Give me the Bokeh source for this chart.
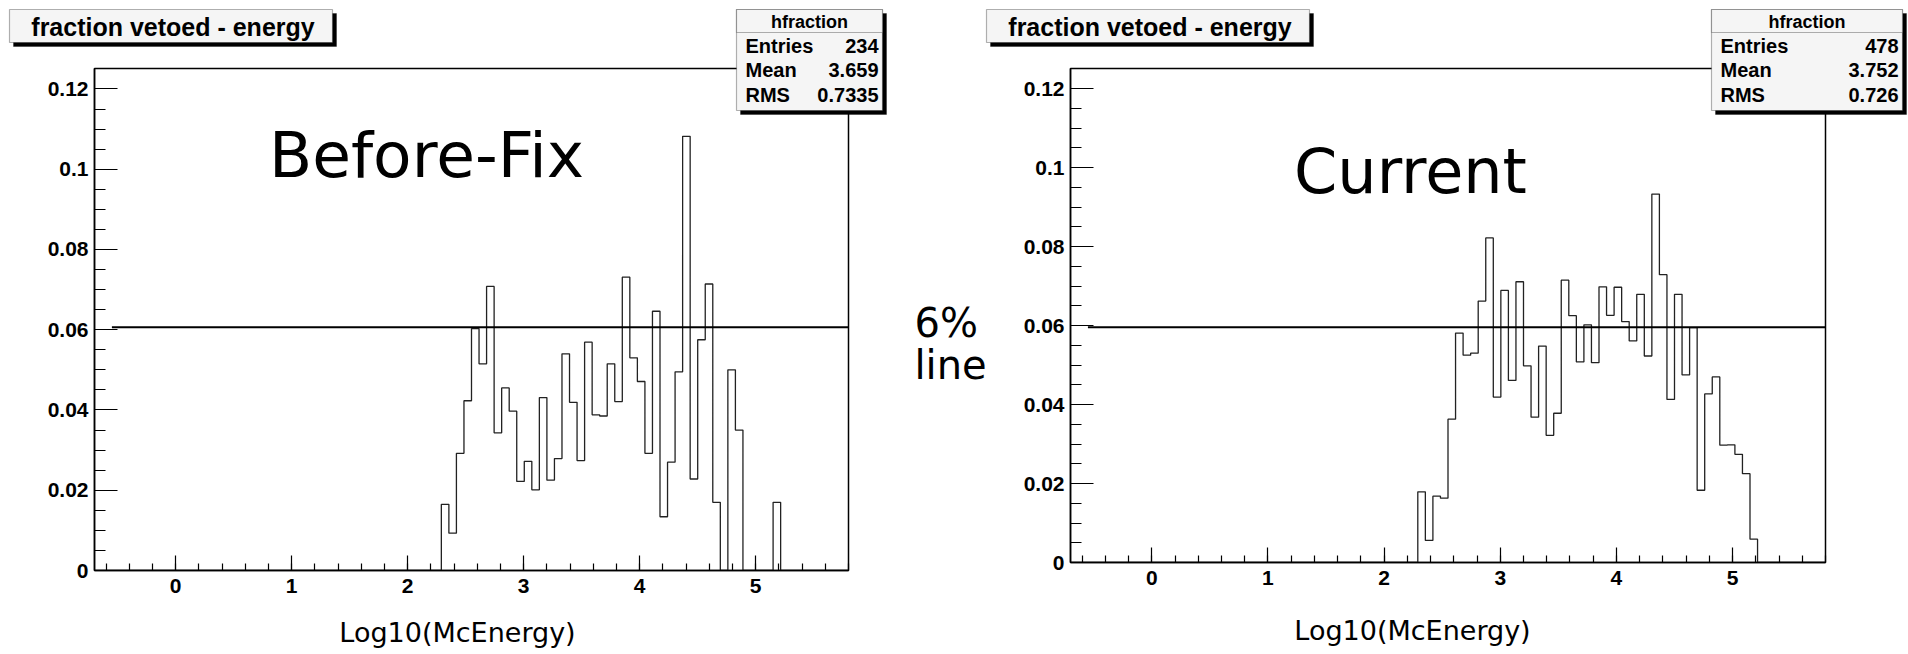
from bokeh.plotting import figure
from bokeh.models import Range1d, FixedTicker, PrintfTickFormatter, Label, BoxAnnotation
from bokeh.embed import file_html
from bokeh.resources import INLINE

# ---------------- data ----------------
X_MIN, X_MAX, N_BINS = -0.7, 5.8, 100
Y_MAX = 0.1251
FIRST_BIN = 46  # index of first non-empty bin

before_values = [0.0165, 0.0093, 0.0292, 0.0423, 0.0603, 0.0515, 0.0708, 0.0343,
                 0.0455, 0.0397, 0.0222, 0.0272, 0.0201, 0.0431, 0.0225, 0.0279,
                 0.0540, 0.0419, 0.0274, 0.0569, 0.0388, 0.0385, 0.0515, 0.0421,
                 0.0731, 0.0530, 0.0471, 0.0292, 0.0646, 0.0134, 0.0270, 0.0495,
                 0.1082, 0.0228, 0.0575, 0.0714, 0.0170, 0.0, 0.0500, 0.0350,
                 0.0, 0.0, 0.0, 0.0, 0.0170]

current_values = [0.0179, 0.0056, 0.0168, 0.0163, 0.0363, 0.0581, 0.0525, 0.0530,
                  0.0662, 0.0822, 0.0419, 0.0689, 0.0461, 0.0711, 0.0498, 0.0368,
                  0.0548, 0.0322, 0.0378, 0.0715, 0.0625, 0.0508, 0.0602, 0.0506,
                  0.0698, 0.0626, 0.0697, 0.0610, 0.0561, 0.0679, 0.0523, 0.0933,
                  0.0729, 0.0413, 0.0679, 0.0475, 0.0595, 0.0183, 0.0427, 0.0470,
                  0.0297, 0.0298, 0.0274, 0.0225, 0.0059]

before_level = 0.0606
current_level = 0.0596
level_x = [-0.55, 5.8]

before_stats = [("Entries", "234"), ("Mean", "3.659"), ("RMS", "0.7335")]
current_stats = [("Entries", "478"), ("Mean", "3.752"), ("RMS", "0.726")]

x_major = [0, 1, 2, 3, 4, 5]
x_minor = [round(-0.6 + 0.2 * i, 1) for i in range(33)]
y_major = [0, 0.02, 0.04, 0.06, 0.08, 0.1, 0.12]
y_minor = [round(0.005 * i, 3) for i in range(25)]

title_text = "fraction vetoed - energy"
stats_name = "hfraction"
x_title = "Log10(McEnergy)"
before_note = "Before-Fix"
current_note = "Current"
line_note = ["6%", "line"]

TXT = "Liberation Sans"
HAND = "DejaVu Sans"
W, H = 1908, 654


def hide_title(p):
    if p.title is not None:
        p.title.visible = False


def make_panel(values, level, width, mb_left, mb_right, mb_bottom, page_left):
    edges = [X_MIN + (X_MAX - X_MIN) * k / N_BINS for k in range(N_BINS + 1)]
    full = [0.0] * N_BINS
    for i, v in enumerate(values):
        full[FIRST_BIN + i] = v

    p = figure(width=width, height=H, x_range=Range1d(X_MIN, X_MAX), y_range=Range1d(0, Y_MAX),
               output_backend="svg", toolbar_location=None,
               min_border_left=mb_left, min_border_right=mb_right,
               min_border_top=68, min_border_bottom=mb_bottom)
    hide_title(p)
    p.styles = {"position": "absolute", "left": f"{page_left}px", "top": "0px"}
    p.grid.visible = False
    p.outline_line_color = "black"
    p.outline_line_width = 1.5
    p.background_fill_color = "white"
    p.border_fill_color = "white"

    p.step(edges, full + [0.0], mode="after", line_color="#222222", line_width=1.3)
    p.line(level_x, [level, level], line_color="black", line_width=2)

    p.xaxis.ticker = FixedTicker(ticks=x_major, minor_ticks=x_minor)
    p.yaxis.ticker = FixedTicker(ticks=y_major, minor_ticks=y_minor)
    for ax in (p.xaxis[0], p.yaxis[0]):
        ax.major_tick_out = 0
        ax.minor_tick_out = 0
        ax.axis_line_width = 1.5
        ax.axis_line_color = "black"
        ax.major_tick_line_width = 1.2
        ax.minor_tick_line_width = 1.2
        ax.major_tick_line_color = "black"
        ax.minor_tick_line_color = "black"
        ax.major_label_text_font = TXT
        ax.major_label_text_font_style = "bold"
        ax.major_label_text_font_size = "21px"
        ax.major_label_text_color = "black"
        ax.formatter = PrintfTickFormatter(format="%g")
    p.xaxis.major_tick_in = 15
    p.xaxis.minor_tick_in = 7
    p.yaxis.major_tick_in = 23
    p.yaxis.minor_tick_in = 11
    p.xaxis.major_label_standoff = 8
    p.yaxis.major_label_standoff = 6
    return p


# histogram panels: left frame at page x 94..848, y 68..570 ; right frame 1070..1825, y 68..562
left = make_panel(before_values, before_level, 990, 94, 142, 84, 0)
right = make_panel(current_values, current_level, 918, 80, 83, 92, 990)

# transparent overlay (pixel coordinates) for the pave boxes and hand-written notes
ov = figure(width=W, height=H, x_range=Range1d(0, W), y_range=Range1d(H, 0),
            x_axis_type=None, y_axis_type=None, output_backend="svg", toolbar_location=None,
            min_border=0, min_border_left=0, min_border_right=0, min_border_top=0, min_border_bottom=0)
hide_title(ov)
ov.styles = {"position": "absolute", "left": "0px", "top": "0px", "z-index": "5"}
ov.grid.visible = False
ov.outline_line_color = None
ov.background_fill_color = None
ov.border_fill_color = None


def label(x, y, text, size, font=TXT, style="bold", align="left"):
    ov.add_layout(Label(x=x, y=y, text=text, text_font=font, text_font_style=style,
                        text_font_size=f"{size}px", text_align=align, text_baseline="middle",
                        text_color="black"))


def box(l, r, t, b, fill="#f5f5f5", shadow=4):
    if shadow:
        ov.add_layout(BoxAnnotation(left=l + shadow, right=r + shadow, top=t + shadow, bottom=b + shadow,
                                    fill_color="black", fill_alpha=1, line_color="black", line_width=1))
    ov.add_layout(BoxAnnotation(left=l, right=r, top=t, bottom=b, fill_color=fill, fill_alpha=1,
                                line_color="black", line_width=1.2))


def pave(title_box, stats_box, stats):
    tl, tr, tt, tb = title_box
    box(tl, tr, tt, tb)
    label((tl + tr) / 2 + 2, (tt + tb) / 2 + 1, title_text, 25, align="center")
    sl, sr, st, sb = stats_box
    box(sl, sr, st, sb)
    box(sl, sr, st, st + 23, shadow=0)
    label((sl + sr) / 2, st + 12, stats_name, 18, align="center")
    for i, (name, val) in enumerate(stats):
        yy = st + 36 + 24.5 * i
        label(sl + 9, yy, name, 20, align="left")
        label(sr - 4, yy, val, 20, align="right")


pave((9, 332, 9, 42), (736, 882, 9, 110), before_stats)
pave((986, 1309, 9, 42), (1711, 1902, 9, 110), current_stats)

label(426, 155, before_note, 63, font=HAND, style="normal", align="center")
label(1410, 171, current_note, 62, font=HAND, style="normal", align="center")
label(914, 322, line_note[0], 40, font=HAND, style="normal")
label(914, 364, line_note[1], 40, font=HAND, style="normal")
label(457, 632, x_title, 27, font=HAND, style="normal", align="center")
label(1412, 630, x_title, 27, font=HAND, style="normal", align="center")

open("out.html", "w").write(file_html([left, right, ov], INLINE))
